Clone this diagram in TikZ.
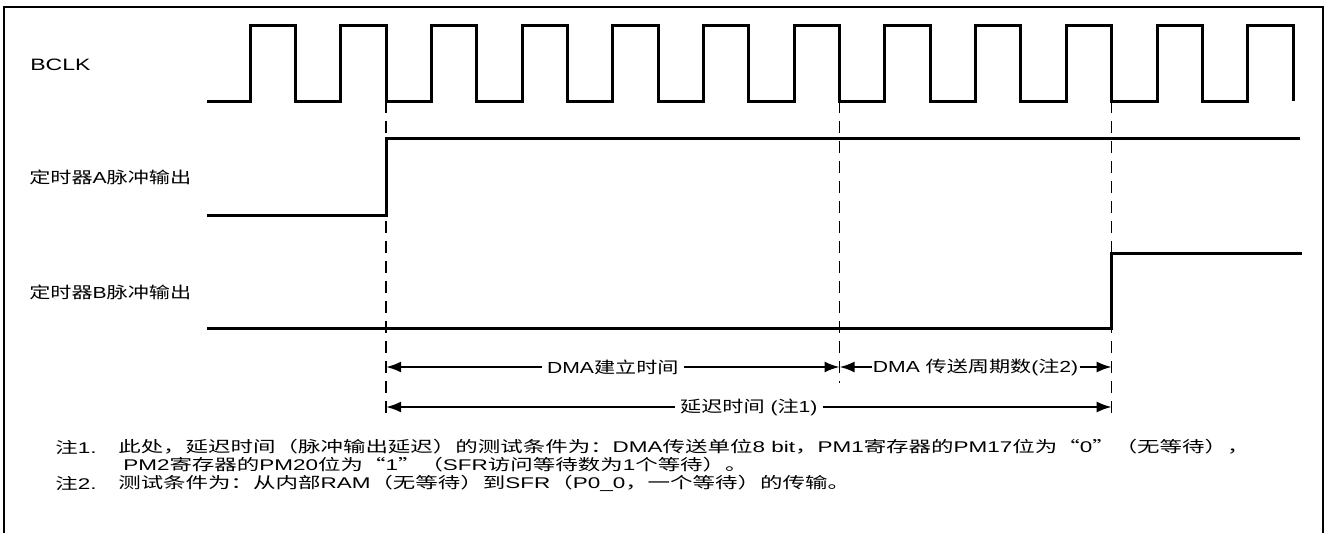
\documentclass[tikz,border=0pt]{standalone}
\usepackage{fontspec}
\setmainfont{Liberation Sans}
\newfontfamily\zhfont{Noto Sans CJK SC}
\newcommand\zh[1]{{\zhfont #1}}
\usetikzlibrary{arrows.meta}

\begin{document}
\begin{tikzpicture}[x=1pt,y=-1pt,
  wave/.style={line width=3pt,line join=miter},
  guide/.style={line width=1.5pt,dash pattern=on 12pt off 8pt},
  dim/.style={line width=2pt,{Latex[length=15pt,width=11pt]}-{Latex[length=15pt,width=11pt]}},
  txt/.style={font=\fontsize{16}{19}\selectfont,xscale=1.32,inner sep=0pt},
  note/.style={font=\fontsize{15.5}{18}\selectfont,xscale=1.45,inner sep=0pt,anchor=west},
  gap/.style={txt,fill=white,inner xsep=4pt,inner ysep=1pt}]
\useasboundingbox (0,0) rectangle (1328,533);

\draw[line width=2pt] (4,533) |- (1323,7) -- (1323,533);

\def\hi{25} \def\lo{101} \def\per{90.7}

% edges of BCLK that the other signals refer to
\coordinate (e1) at (386.05,\lo);
\coordinate (e6) at (839.55,\lo);
\coordinate (e9) at (1111.65,\lo);
\coordinate (e1b) at (386.05,417);
\coordinate (e6b) at (839.55,383);
\coordinate (e9b) at (1111.65,417);

\draw[guide] (e1) -- (e1b);
\draw[guide] (e6) -- (e6b);
\draw[guide] (e9) -- (e9b);

% BCLK
\draw[wave] (207,\lo) \foreach \k in {0,...,11}{
  -- ({250+\k*\per},\lo) -- ({250+\k*\per},\hi)
  -- ({295.35+\k*\per},\hi) -- ({295.35+\k*\per},\lo)};

% timer outputs
\draw[wave] (207,215) -- (386.05,215) -- (386.05,138) -- (1300,138);
\draw[wave] (207,328) -- (1111.65,328) -- (1111.65,253) -- (1302,253);

\node[txt,anchor=west,font=\fontsize{16.5}{19}\selectfont,xscale=1.06] (bclk) at (30,65) {BCLK};
\node[txt,anchor=west] (outA) at (29,177) {\zh{定时器}A\zh{脉冲输出}};
\node[txt,anchor=west] (outB) at (29,292) {\zh{定时器}B\zh{脉冲输出}};

% spans
\coordinate (a1) at (386.05,367);
\coordinate (a6) at (839.55,367);
\coordinate (a9) at (1111.65,367);
\coordinate (b1) at (386.05,407);
\coordinate (b9) at (1111.65,407);

\draw[dim] (a1) -- (a6) node[gap,midway] (setup) {DMA\zh{建立时间}};
\draw[dim] (a6) -- (a9) node[gap,midway,inner xsep=1pt] (cycles) {DMA \zh{传送周期数}(\zh{注}2)};
\draw[dim] (b1) -- (b9) node[gap,midway] (delay) {\zh{延迟时间} (\zh{注}1)};

% notes
\node[note] (n1) at (55,447) {\zh{注}1.};
\node[note] (n1t) at (118,447) {\zh{此处，延迟时间（脉冲输出延迟）的测试条件为：}DMA\zh{传送单位}8 bit\zh{，}PM1\zh{寄存器的}PM17\zh{位为“}0\zh{”（无等待），}};
\node[note] (n1u) at (123,465) {PM2\zh{寄存器的}PM20\zh{位为“}1\zh{”（}SFR\zh{访问等待数为}1\zh{个等待）。}};
\node[note] (n2) at (55,483) {\zh{注}2.};
\node[note] (n2t) at (118,483) {\zh{测试条件为：从内部}RAM\zh{（无等待）到}SFR\zh{（}P0\_0\zh{，一个等待）的传输。}};
\end{tikzpicture}
\end{document}
